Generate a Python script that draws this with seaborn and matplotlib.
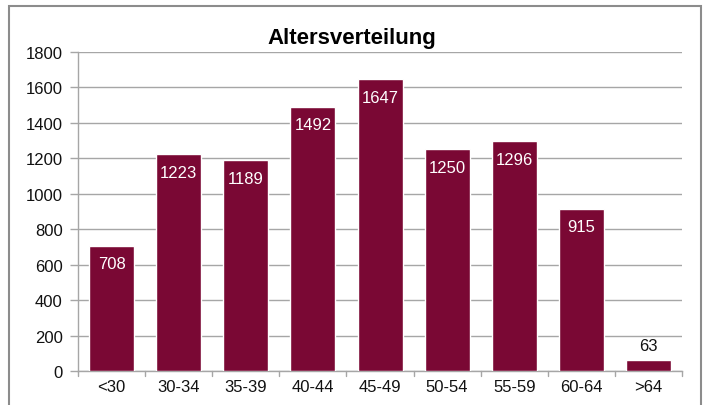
import matplotlib
matplotlib.use("Agg")
import matplotlib.pyplot as plt
import seaborn as sns
import pandas as pd
from matplotlib.patches import Rectangle

categories = ["<30", "30-34", "35-39", "40-44", "45-49", "50-54", "55-59", "60-64", ">64"]
counts = [708, 1223, 1189, 1492, 1647, 1250, 1296, 915, 63]
yticks = [0, 200, 400, 600, 800, 1000, 1200, 1400, 1600, 1800]

bar_color = "#7A0834"
grid_color = "#A6A6A6"

sns.set_theme(style="white")
plt.rcParams["font.family"] = ["Liberation Sans", "DejaVu Sans"]

df = pd.DataFrame({"group": categories, "count": counts})

fig = plt.figure(figsize=(7.04, 4.06), dpi=100)
ax = fig.add_axes([0.1108, 0.0837, 0.8580, 0.7858])

sns.barplot(data=df, x="group", y="count", color=bar_color, saturation=1,
            width=0.67, ax=ax, zorder=3)

ax.set_ylim(0, 1800)
ax.set_xlim(-0.5, len(categories) - 0.5)
ax.set_yticks(yticks)
ax.set_yticklabels([str(t) for t in yticks], fontsize=12, color="#111111")
ax.tick_params(axis="x", labelsize=12, labelcolor="#111111", length=0, pad=6)
ax.tick_params(axis="y", length=6, width=1, color=grid_color, direction="out", pad=5, left=True)
ax.grid(axis="y", color=grid_color, linewidth=1, zorder=0)
ax.set_axisbelow(True)
ax.set_xlabel("")
ax.set_ylabel("")

for s in ["top", "right"]:
    ax.spines[s].set_visible(False)
for s in ["left", "bottom"]:
    ax.spines[s].set_color(grid_color)
    ax.spines[s].set_linewidth(1)

# category boundary ticks below x axis
for b in range(len(categories) + 1):
    ax.plot([b - 0.5, b - 0.5], [0, -30], color=grid_color, lw=1, clip_on=False, zorder=1)

for i, v in enumerate(counts):
    if v > 300:
        ax.annotate(str(v), (i, v), xytext=(0, -13), textcoords="offset points",
                    ha="center", va="center", color="white", fontsize=12, zorder=4)
    else:
        ax.annotate(str(v), (i, v), xytext=(0, 10), textcoords="offset points",
                    ha="center", va="center", color="#111111", fontsize=12, zorder=4)

fig.text(0.5, 0.905, "Altersverteilung", ha="center", va="center",
         fontsize=16, fontweight="bold", color="black")

# outer chart frame
fig.patches.append(Rectangle((9 / 704, -0.05), (701 - 9) / 704, 1.05 - 7 / 406,
                             transform=fig.transFigure, fill=False,
                             edgecolor="#8C8C8C", linewidth=1.5))

fig.savefig("out.png", dpi=100)
